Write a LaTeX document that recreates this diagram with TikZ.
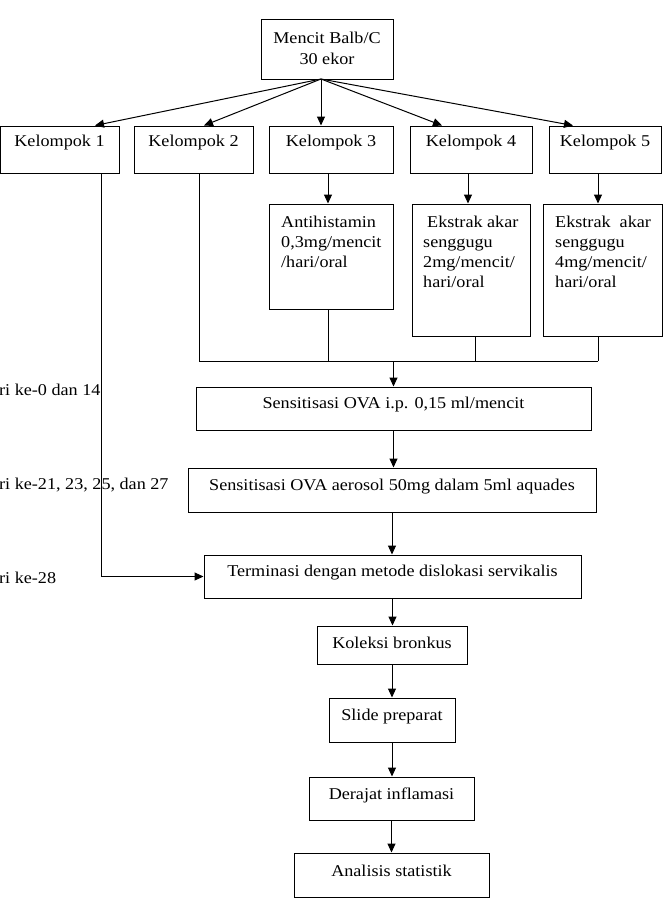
\documentclass[tikz,border=0pt]{standalone}
\usepackage{fontspec}
\setmainfont{Liberation Serif}[FakeStretch=1.1]
\usetikzlibrary{arrows.meta,calc}
\newcommand\bx[5]{\node[box, minimum width={#4-#2}, minimum height={#5-#3}] (#1) at ({(#2+#4)/2},{(#3+#5)/2}) {};}
\begin{document}
\begin{tikzpicture}[x=1pt,y=-1pt,
  box/.style={draw, line width=1pt, inner sep=0pt},
  txt/.style={inner sep=0pt, font=\fontsize{16.5}{20}\selectfont},
  arr/.style={line width=1pt, -{Triangle[length=9pt,width=8pt]}},
  ln/.style={line width=1pt}]
\useasboundingbox (0,0) rectangle (663,908);
% boxes
\bx{m}{261}{19}{393}{79}
\bx{k1}{0}{126}{119}{173}
\bx{k2}{134}{126}{253}{173}
\bx{k3}{269}{126}{393}{173}
\bx{k4}{410}{126}{532}{173}
\bx{k5}{549}{126}{661}{173}
\bx{a3}{269}{204}{393}{309}
\bx{a4}{412}{204}{530}{336}
\bx{a5}{543}{204}{662}{336}
\bx{s1}{196}{387}{591}{430}
\bx{s2}{188}{468}{596}{512}
\bx{t}{204}{555}{581}{598}
\bx{kol}{317}{626}{467}{664}
\bx{sl}{329}{698}{455}{742}
\bx{d}{309}{777}{474}{820}
\bx{an}{294}{853}{489}{897}
% texts
\node[txt, align=center, font=\fontsize{16.5}{21}\selectfont] (mt) at (327,48) {Mencit Balb/C\\30 ekor};
\node[txt] (k1t) at (59.5,143) {Kelompok 1};
\node[txt] (k2t) at (193.5,143) {Kelompok 2};
\node[txt] (k3t) at (331,143) {Kelompok 3};
\node[txt] (k4t) at (471,143) {Kelompok 4};
\node[txt] (k5t) at (605,143) {Kelompok 5};
\node[txt, align=left, anchor=north west] (a3t) at (281,216) {Antihistamin\\0,3mg/mencit\\/hari/oral};
\node[txt, align=left, anchor=north west] (a4t) at (423,216) {\hspace*{4pt}Ekstrak akar\\senggugu\\2mg/mencit/\\hari/oral};
\node[txt, align=left, anchor=north west] (a5t) at (555,216) {Ekstrak\ \ akar\\senggugu\\4mg/mencit/\\hari/oral};
\node[txt] (s1t) at (393.5,405) {Sensitisasi OVA i.p. 0,15 ml/mencit};
\node[txt] (s2t) at (392,487) {Sensitisasi OVA aerosol 50mg dalam 5ml aquades};
\node[txt] (tt) at (392.5,573) {Terminasi dengan metode dislokasi servikalis};
\node[txt] (kolt) at (392,643) {Koleksi bronkus};
\node[txt] (slt) at (392,717) {Slide preparat};
\node[txt] (dt) at (391.5,795) {Derajat inflamasi};
\node[txt] (ant) at (391.5,871) {Analisis statistik};
\node[txt, anchor=west] (l1) at (-1,390) {ri ke-0 dan 14};
\node[txt, anchor=west] (l2) at (-1,485) {ri ke-21, 23, 25, dan 27};
\node[txt, anchor=west] (l3) at (-1,578) {ri ke-28};
% connectors
\coordinate (mb) at (321,79);
\coordinate (jl) at (199,361);
\coordinate (j) at (393.5,361);
\coordinate (jr) at (598,361);
\draw[arr] (mb) -- ([xshift=35.5pt]k1.north);
\draw[arr] (mb) -- ([xshift=10.5pt]k2.north);
\draw[arr] (mb) -- ([xshift=-10pt]k3.north);
\draw[arr] (mb) -- ([xshift=-29pt]k4.north);
\draw[arr] (mb) -- ([xshift=-32pt]k5.north);
\draw[arr] ([xshift=41.5pt]k1.south) |- (t.west);
\draw[ln] ([xshift=5.5pt]k2.south) -- (jl) -- (jr);
\draw[arr] ([xshift=-3pt]k3.south) -- ([xshift=-3pt]a3.north);
\draw[arr] ([xshift=-3pt]k4.south) -- ([xshift=-3pt]a4.north);
\draw[arr] ([xshift=-7pt]k5.south) -- ([xshift=-4.5pt]a5.north);
\draw[ln] ([xshift=-3pt]a3.south) -- ([xshift=-3pt]a3.south |- jl);
\draw[ln] ([xshift=4pt]a4.south) -- ([xshift=4pt]a4.south |- jl);
\draw[ln] ([xshift=-4.5pt]a5.south) -- (jr);
\draw[arr] (j) -- (s1.north);
\draw[arr] (s1.south) -- (s1.south |- s2.north);
\draw[arr] (s2.south) -- (s2.south |- t.north);
\draw[arr] (t.south) -- (t.south |- kol.north);
\draw[arr] (kol.south) -- (kol.south |- sl.north);
\draw[arr] (sl.south) -- (sl.south |- d.north);
\draw[arr] (d.south) -- (d.south |- an.north);
\end{tikzpicture}
\end{document}
